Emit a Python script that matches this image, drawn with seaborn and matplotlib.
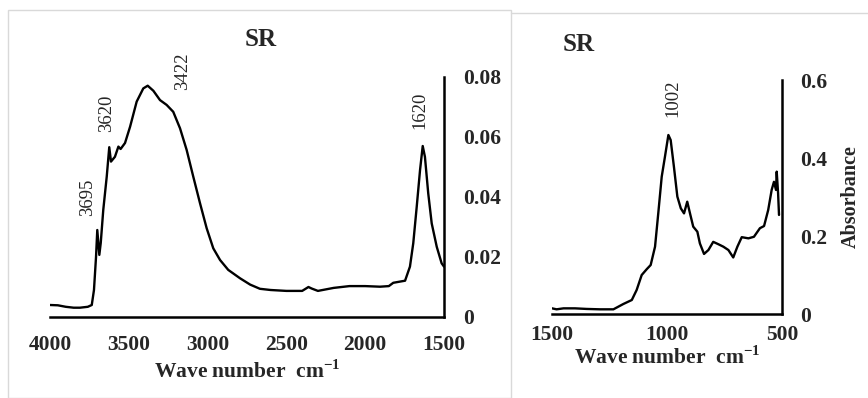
import numpy as np
import pandas as pd
import matplotlib
matplotlib.use("Agg")
import matplotlib.pyplot as plt
import seaborn as sns
from matplotlib.patches import Rectangle

# ---- data: high wavenumber region (left panel) ----
wn_high = [4000, 3950, 3900, 3850, 3810, 3760, 3735, 3721, 3708, 3700, 3687, 3678,
           3662, 3640, 3624, 3613, 3588, 3566, 3552, 3524, 3492, 3450, 3408, 3380,
           3344, 3302, 3260, 3218, 3175, 3133, 3091, 3048, 3006, 2964, 2921, 2869,
           2794, 2730, 2668, 2600, 2500, 2400, 2360, 2340, 2300, 2200, 2100, 2000,
           1906, 1850, 1822, 1747, 1716, 1695, 1673, 1652, 1635, 1621, 1600, 1578,
           1546, 1515, 1500]
abs_high = [0.0040, 0.0039, 0.0034, 0.0031, 0.0031, 0.0034, 0.0040, 0.0090, 0.0200,
            0.0290, 0.0207, 0.0247, 0.0357, 0.0468, 0.0566, 0.0518, 0.0534, 0.0568,
            0.0560, 0.0580, 0.0634, 0.0718, 0.0762, 0.0771, 0.0754, 0.0723, 0.0707,
            0.0684, 0.0629, 0.0557, 0.0468, 0.0379, 0.0296, 0.0229, 0.0190, 0.0157,
            0.0129, 0.0108, 0.0094, 0.0090, 0.0087, 0.0087, 0.0100, 0.0095, 0.0087,
            0.0097, 0.0103, 0.0103, 0.0101, 0.0103, 0.0114, 0.0121, 0.0168, 0.0246,
            0.0368, 0.0490, 0.0570, 0.0534, 0.0412, 0.0312, 0.0234, 0.0179, 0.0168]

# ---- data: low wavenumber region (right panel) ----
wn_low = [1500, 1480, 1450, 1400, 1350, 1291, 1233, 1190, 1153, 1132, 1110, 1088,
          1071, 1052, 1038, 1023, 1009, 994, 984, 970, 955, 940, 926, 912, 900, 886,
          868, 857, 839, 820, 799, 777, 755, 733, 712, 694, 675, 646, 622, 596, 578,
          560, 545, 535, 526, 523, 517, 513]
abs_low = [0.0145, 0.012, 0.0145, 0.0145, 0.013, 0.012, 0.012, 0.0256, 0.0359,
           0.0615, 0.100, 0.115, 0.1256, 0.1726, 0.258, 0.352, 0.403, 0.459, 0.446,
           0.378, 0.301, 0.271, 0.258, 0.288, 0.258, 0.224, 0.211, 0.181, 0.154,
           0.164, 0.185, 0.179, 0.1726, 0.164, 0.145, 0.1726, 0.197, 0.194, 0.198,
           0.220, 0.2256, 0.2667, 0.318, 0.339, 0.318, 0.365, 0.310, 0.254]

high_ticks_x = [4000, 3500, 3000, 2500, 2000, 1500]
high_ticks_y = [0, 0.02, 0.04, 0.06, 0.08]
high_ticklabels_y = ["0", "0.02", "0.04", "0.06", "0.08"]
low_ticks_x = [1500, 1000, 500]
low_ticks_y = [0, 0.2, 0.4, 0.6]
low_ticklabels_y = ["0", "0.2", "0.4", "0.6"]

peak_labels_high = ["3695", "3620", "3422", "1620"]
peak_pos_high = [(3760, 0.040), (3638, 0.068), (3162, 0.082), (1652, 0.069)]
peak_labels_low = ["1002"]
peak_pos_low = [(974, 0.554)]

df_high = pd.DataFrame({"wn": wn_high, "A": abs_high})
df_low = pd.DataFrame({"wn": wn_low, "A": abs_low})

sns.set_style("white")
plt.rcParams["font.family"] = ["Liberation Serif", "DejaVu Serif"]
plt.rcParams["mathtext.fontset"] = "custom"
plt.rcParams["mathtext.rm"] = "Liberation Serif"
plt.rcParams["mathtext.bf"] = "Liberation Serif:bold"

fig = plt.figure(figsize=(8.68, 3.98), dpi=100)

# panel frames
fig.patches.append(Rectangle((8 / 868, 0.0), (511 - 8) / 868, 1 - 10 / 398,
                             transform=fig.transFigure, fill=False,
                             edgecolor="#d9d9d9", linewidth=1.0))
fig.lines.append(plt.Line2D([511 / 868, 1.0], [1 - 13 / 398, 1 - 13 / 398],
                            transform=fig.transFigure, color="#d9d9d9", linewidth=1.0))

ax1 = fig.add_axes([50 / 868, 1 - 317 / 398, 394 / 868, 240 / 398])
ax2 = fig.add_axes([552 / 868, 1 - 314 / 398, 230 / 868, 234 / 398])

for ax, df in ((ax1, df_high), (ax2, df_low)):
    sns.lineplot(data=df, x="wn", y="A", ax=ax, color="black", linewidth=1.7,
                 sort=False, estimator=None)
    ax.set_facecolor("none")
    for s in ("top", "left"):
        ax.spines[s].set_visible(False)
    for s in ("bottom", "right"):
        ax.spines[s].set_color("black")
        ax.spines[s].set_linewidth(1.8)
    ax.yaxis.tick_right()
    ax.yaxis.set_label_position("right")
    ax.tick_params(length=0)

ax1.set_xlim(4000, 1500)
ax1.set_ylim(0, 0.08)
ax1.set_xticks(high_ticks_x)
ax1.set_xticklabels([str(t) for t in high_ticks_x], fontsize=15.5, fontweight="bold")
ax1.set_yticks(high_ticks_y)
ax1.set_yticklabels(high_ticklabels_y, fontsize=15.5, fontweight="bold")
ax1.tick_params(axis="x", pad=13)
ax1.tick_params(axis="y", pad=14)
ax1.set_xlabel(r"Wave number  cm$^{\mathbf{-1}}$", fontsize=15.5, fontweight="bold", labelpad=4)
ax1.set_ylabel("")
ax1.text(0.535, 1.155, "SR", transform=ax1.transAxes, ha="center", va="center",
         fontsize=18, fontweight="bold")
for lab, (x, y) in zip(peak_labels_high, peak_pos_high):
    ax1.text(x, y, lab, rotation=90, ha="center", va="center", fontsize=13.5,
             clip_on=False)

ax2.set_xlim(1500, 500)
ax2.set_ylim(0, 0.6)
ax2.set_xticks(low_ticks_x)
ax2.set_xticklabels([str(t) for t in low_ticks_x], fontsize=15.5, fontweight="bold")
ax2.set_yticks(low_ticks_y)
ax2.set_yticklabels(low_ticklabels_y, fontsize=15.5, fontweight="bold")
ax2.tick_params(axis="x", pad=8)
ax2.tick_params(axis="y", pad=13)
ax2.set_xlabel(r"Wave number  cm$^{\mathbf{-1}}$", fontsize=15.5, fontweight="bold", labelpad=1)
ax2.set_ylabel("Absorbance", fontsize=14.5, fontweight="bold", labelpad=10)
ax2.text(0.115, 1.15, "SR", transform=ax2.transAxes, ha="center", va="center",
         fontsize=18, fontweight="bold")
for lab, (x, y) in zip(peak_labels_low, peak_pos_low):
    ax2.text(x, y, lab, rotation=90, ha="center", va="center", fontsize=13.5,
             clip_on=False)

fig.savefig("out.png", dpi=100)
